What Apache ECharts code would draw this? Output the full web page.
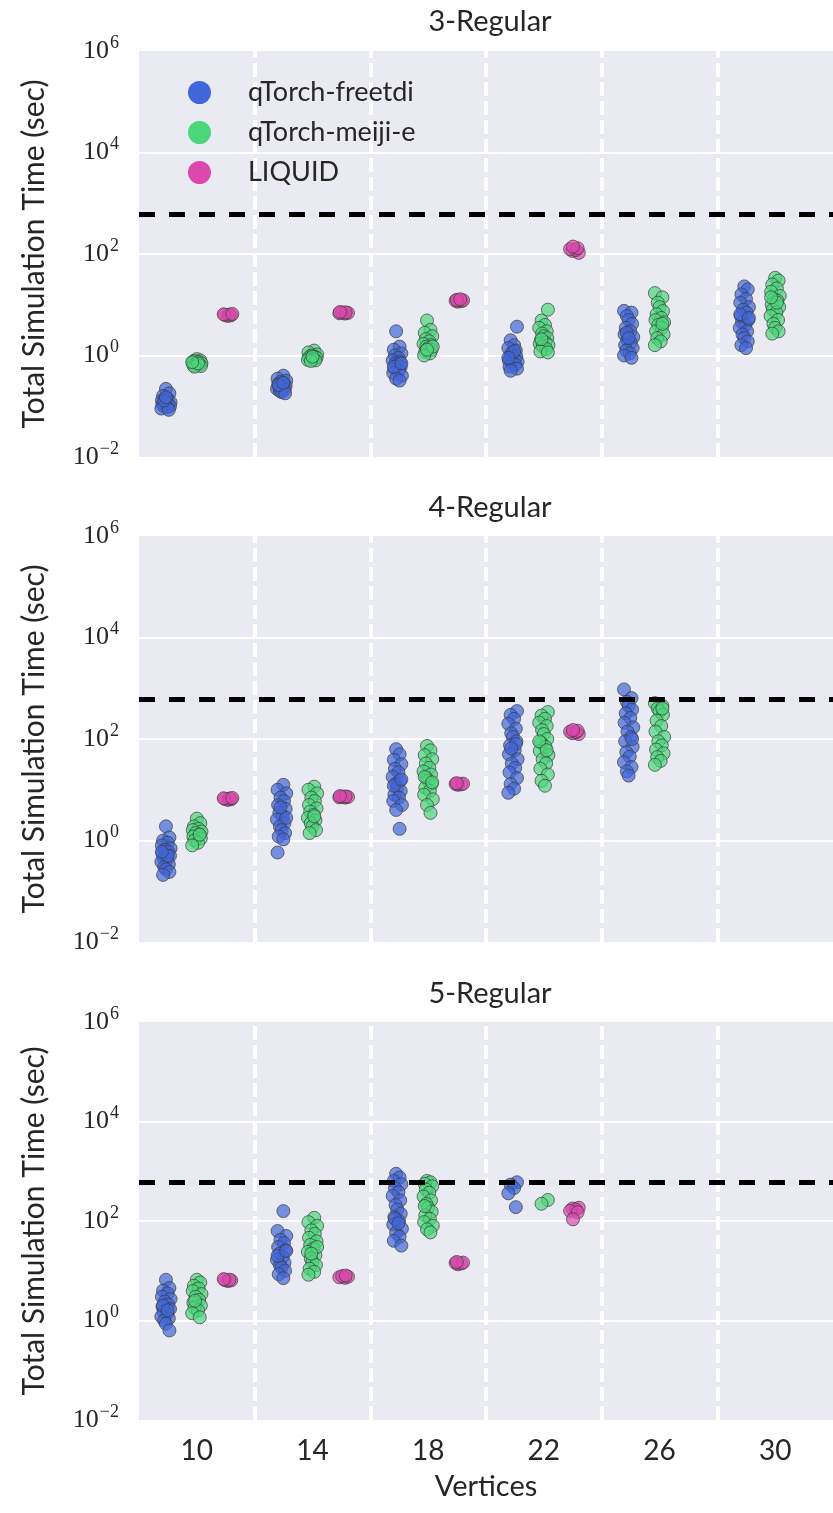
<!DOCTYPE html>
<html>
<head>
<meta charset="utf-8">
<script src="https://cdn.jsdelivr.net/npm/echarts@6/dist/echarts.min.js"></script>
<style>
  html, body { margin: 0; background: #fff; }
  #chart { width: 833px; height: 1513px; }
</style>
</head>
<body>
<div id="chart"></div>
<script>
const vertices = ['10', '14', '18', '22', '26', '30']
const panelTitles = ['3-Regular', '4-Regular', '5-Regular']
const methods = ['qTorch-freetdi', 'qTorch-meiji-e', 'LIQUID']
const cutoff = 600

// 3-Regular, one list per vertex count
const freetdi3 = [
  [0.22, 0.18, 0.16, 0.14, 0.13, 0.12, 0.12, 0.11, 0.11, 0.10, 0.10, 0.095, 0.09, 0.085, 0.13, 0.15],
  [0.40, 0.35, 0.32, 0.30, 0.28, 0.27, 0.25, 0.24, 0.23, 0.22, 0.21, 0.20, 0.19, 0.18, 0.26, 0.29],
  [3.0, 1.5, 1.3, 1.1, 1.0, 0.9, 0.8, 0.75, 0.7, 0.65, 0.6, 0.55, 0.5, 0.45, 0.4, 0.35, 0.32, 0.6, 0.7],
  [3.7, 2.0, 1.6, 1.4, 1.25, 1.1, 1.0, 0.95, 0.9, 0.85, 0.8, 0.75, 0.7, 0.65, 0.6, 0.55, 0.5, 1.2, 0.9],
  [7.6, 7.0, 6.0, 5.0, 4.2, 3.5, 3.0, 2.6, 2.3, 2.0, 1.8, 1.6, 1.4, 1.25, 1.1, 1.0, 0.9, 2.8, 2.2],
  [23, 20, 16, 13, 11, 9, 8, 7, 6, 5, 4.5, 4, 3.5, 3, 2.6, 2.2, 1.9, 1.6, 1.4, 6.5, 5.5]
]
const meiji3 = [
  [0.85, 0.8, 0.78, 0.75, 0.72, 0.7, 0.68, 0.66, 0.64, 0.62, 0.6, 0.7, 0.74],
  [1.25, 1.15, 1.05, 1.0, 0.95, 0.92, 0.9, 0.88, 0.85, 0.82, 0.8, 0.78, 0.95],
  [4.9, 3.2, 2.8, 2.4, 2.1, 1.9, 1.7, 1.6, 1.5, 1.4, 1.3, 1.2, 1.1, 1.0, 1.5, 1.3],
  [8.0, 4.9, 4.0, 3.5, 3.0, 2.7, 2.4, 2.2, 2.0, 1.8, 1.7, 1.6, 1.5, 1.35, 1.2, 1.15, 2.1],
  [17, 14, 11, 9, 7.5, 6.5, 5.5, 5.0, 4.5, 4.0, 3.5, 3.0, 2.6, 2.2, 1.9, 1.6, 4.2],
  [34, 30, 25, 21, 18, 15, 13, 12, 10, 9, 8, 7, 6, 5, 4.2, 3.5, 3.0, 2.7, 11, 14]
]
const liquid3 = [
  [6.0, 6.2, 6.3, 6.4, 6.5, 6.6],
  [6.7, 6.8, 6.9, 7.0, 7.1, 7.2],
  [11.5, 11.8, 12.0, 12.2, 12.5, 12.8],
  [105, 115, 120, 125, 130, 140],
  [],
  []
]

// 4-Regular
const freetdi4 = [
  [1.9, 1.15, 1.0, 0.9, 0.8, 0.7, 0.65, 0.6, 0.55, 0.5, 0.45, 0.42, 0.38, 0.34, 0.3, 0.27, 0.24, 0.21, 0.5, 0.6],
  [12.5, 10, 8.5, 7, 6, 5, 4.2, 3.5, 3.0, 2.6, 2.2, 1.9, 1.6, 1.4, 1.2, 1.05, 0.58, 2.8, 4.5],
  [63, 50, 39, 32, 26, 22, 18, 15, 13, 11, 9.5, 8, 7, 6, 5, 4, 1.7, 12, 16],
  [355, 300, 250, 200, 160, 130, 110, 90, 75, 60, 50, 40, 33, 27, 22, 17, 13, 10.5, 8.7, 80, 65],
  [950, 640, 540, 450, 380, 320, 260, 210, 170, 140, 110, 90, 70, 55, 45, 35, 28, 23, 19, 100],
  []
]
const meiji4 = [
  [2.7, 2.2, 1.9, 1.7, 1.6, 1.5, 1.4, 1.3, 1.2, 1.1, 1.0, 0.9, 0.8, 1.3],
  [11.5, 10, 8.5, 7, 6, 5, 4.3, 3.7, 3.2, 2.8, 2.5, 2.2, 1.9, 1.6, 1.4, 3.0],
  [73, 60, 48, 40, 33, 27, 23, 20, 17, 15, 13, 11, 9.5, 8, 6.5, 5, 3.5, 18, 14],
  [340, 290, 250, 210, 180, 150, 125, 100, 85, 70, 58, 48, 40, 33, 26, 20, 15, 12, 90, 60],
  [510, 450, 400, 350, 300, 230, 180, 140, 110, 90, 75, 62, 52, 44, 37, 31, 400],
  []
]
const liquid4 = [
  [6.3, 6.5, 6.6, 6.7, 6.8, 6.9],
  [7.0, 7.1, 7.2, 7.3, 7.4, 7.5],
  [12.5, 12.8, 13, 13.2, 13.5],
  [125, 130, 135, 140, 145, 150],
  [],
  []
]

// 5-Regular
const freetdi5 = [
  [6.6, 4.5, 4.0, 3.5, 3.0, 2.7, 2.4, 2.1, 1.9, 1.7, 1.5, 1.35, 1.2, 1.1, 1.0, 0.86, 0.63, 2.0, 1.6],
  [158, 63, 50, 42, 36, 30, 26, 22, 19, 16.5, 14.5, 13, 11.5, 10, 8.5, 7.1, 20, 25],
  [890, 750, 640, 550, 460, 380, 320, 260, 210, 170, 140, 120, 100, 85, 70, 58, 48, 40, 32, 110, 90],
  [600, 540, 460, 360, 190],
  [],
  []
]
const meiji5 = [
  [6.6, 5.8, 5.0, 4.4, 3.9, 3.4, 3.0, 2.6, 2.3, 2.0, 1.8, 1.6, 1.4, 1.16, 2.5],
  [116, 95, 80, 65, 55, 46, 39, 33, 28, 24, 20.5, 17.5, 15, 13, 11, 9.5, 8.3, 30, 22],
  [640, 600, 560, 500, 430, 370, 310, 260, 220, 185, 155, 130, 110, 95, 80, 68, 59, 200],
  [265, 222],
  [],
  []
]
const liquid5 = [
  [6.2, 6.4, 6.5, 6.6, 6.8],
  [7.2, 7.4, 7.6, 7.8, 8.0],
  [13.5, 14, 14.3, 14.6, 15],
  [185, 178, 170, 160, 150, 108],
  [],
  []
]

const panels = [
  [freetdi3, meiji3, liquid3],
  [freetdi4, meiji4, liquid4],
  [freetdi5, meiji5, liquid5]
]

const colors = ['#4266d9', '#4cd67a', '#dc48ae']
const textColor = '#262626'
const sans = 'Lato'
const serif = 'Liberation Serif'
// dodge of each method inside a vertex band, plus a fixed strip jitter
const dodge = [-0.267, 0, 0.267]
const jitter = [0, 0.03, -0.025, 0.015, -0.035, 0.04, -0.01, 0.02, -0.03, 0.035, -0.02, 0.01, -0.04, 0.025, -0.015]

const gridTops = [51, 536, 1022]
const gridHeights = [406, 406, 398]
const titleTops = [7, 493, 979]

const chart = echarts.init(document.getElementById('chart'), null, { renderer: 'canvas' })

const grids = [], xAxes = [], yAxes = [], titles = [], series = []

panels.forEach((panel, p) => {
  grids.push({
    left: 139, width: 702, top: gridTops[p], height: gridHeights[p],
    show: true, backgroundColor: '#eaeaf2', borderWidth: 0
  })
  titles.push({
    text: panelTitles[p], left: 490, top: titleTops[p], textAlign: 'center', padding: 0,
    textStyle: { fontFamily: sans, fontSize: 29, fontWeight: 'normal', color: textColor }
  })
  const last = p === panels.length - 1
  xAxes.push({
    type: 'value', gridIndex: p, min: -0.5, max: 5.5,
    axisLine: { show: false }, axisTick: { show: false }, splitLine: { show: false },
    axisLabel: {
      show: last, customValues: [0, 1, 2, 3, 4, 5], margin: 17,
      formatter: v => vertices[Math.round(v)],
      fontFamily: sans, fontSize: 28, color: textColor
    },
    name: last ? 'Vertices' : '', nameLocation: 'middle', nameGap: 52,
    nameTextStyle: { fontFamily: sans, fontSize: 29, color: textColor }
  })
  yAxes.push({
    type: 'log', logBase: 10, gridIndex: p, min: 0.01, max: 1e6,
    axisLine: { show: false }, axisTick: { show: false }, splitLine: { show: false },
    axisLabel: {
      margin: 20, color: textColor,
      formatter: v => {
        const e = Math.round(Math.log10(v))
        if (e % 2 !== 0) return ''
        return '{b|10}{s|' + (e < 0 ? '\u2212' + (-e) : e) + '}'
      },
      rich: {
        b: { fontFamily: serif, fontSize: 26, color: textColor },
        s: { fontFamily: serif, fontSize: 18, color: textColor, padding: [0, 0, 16, 1] }
      }
    },
    name: 'Total Simulation Time (sec)', nameLocation: 'middle', nameGap: 90,
    nameTextStyle: { fontFamily: sans, fontSize: 30, color: textColor }
  })

  // background guides: horizontal grid and dashed separators between vertex bands
  series.push({
    type: 'line', xAxisIndex: p, yAxisIndex: p, data: [], z: 1, silent: true,
    markLine: {
      z: 1, silent: true, symbol: ['none', 'none'], label: { show: false }, animation: false,
      data: [
        { yAxis: 1, lineStyle: { color: '#fff', width: 2, type: 'solid' } },
        { yAxis: 100, lineStyle: { color: '#fff', width: 2, type: 'solid' } },
        { yAxis: 10000, lineStyle: { color: '#fff', width: 2, type: 'solid' } },
        ...[0.5, 1.5, 2.5, 3.5, 4.5].map(x => ({ xAxis: x, lineStyle: { color: '#fff', width: 4, type: [14, 5] } }))
      ]
    }
  })

  panel.forEach((groups, m) => {
    const pts = []
    groups.forEach((vals, i) => {
      vals.forEach((v, k) => pts.push([i + dodge[m] + jitter[(k + i * 3) % jitter.length], v]))
    })
    series.push({
      name: methods[m], type: 'scatter', xAxisIndex: p, yAxisIndex: p, z: 2,
      symbol: 'circle', symbolSize: 13, data: pts,
      itemStyle: { color: colors[m], opacity: 0.7, borderColor: '#3a3a3a', borderWidth: 1 },
      emphasis: { disabled: true }
    })
  })

  // time-out line
  series.push({
    type: 'line', xAxisIndex: p, yAxisIndex: p, data: [], z: 3, silent: true,
    markLine: {
      z: 3, silent: true, symbol: ['none', 'none'], label: { show: false }, animation: false,
      data: [{ yAxis: cutoff }],
      lineStyle: { color: '#000', width: 5, type: [16, 14] }
    }
  })
})

const option = {
  animation: false,
  backgroundColor: '#fff',
  title: titles,
  legend: {
    data: methods, orient: 'vertical', left: 183, top: 74, z: 6,
    icon: 'circle', itemWidth: 23, itemHeight: 23, itemGap: 13,
    itemStyle: { opacity: 1, borderWidth: 0 },
    textStyle: { fontFamily: sans, fontSize: 27, color: textColor, padding: [0, 0, 0, 32] }
  },
  grid: grids,
  xAxis: xAxes,
  yAxis: yAxes,
  series: series
}

chart.setOption(option)
</script>
</body>
</html>
